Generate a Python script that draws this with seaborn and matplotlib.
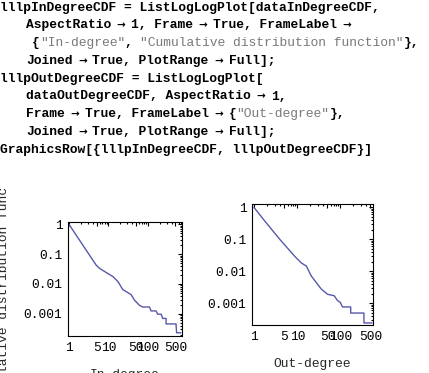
import numpy as np
import pandas as pd
import matplotlib
matplotlib.use('Agg')
import matplotlib.pyplot as plt
from matplotlib.ticker import FixedLocator, NullFormatter
from matplotlib.transforms import Bbox, TransformedBbox
import seaborn as sns

# values
in_degree = [1, 4.9, 6.0, 13.0, 17.4, 23.2, 37.7, 45.8, 61.3, 74.5, 110, 121,
             162, 178, 217, 239, 290, 290, 519, 537, 693]
in_cdf = [1, 0.0428, 0.0332, 0.0177, 0.0121, 0.00645, 0.00442, 0.00288, 0.00192,
          0.00169, 0.00169, 0.00125, 0.00125, 0.00097, 0.00097, 0.0007, 0.0007,
          0.000457, 0.000457, 0.000231, 0.000231]
out_degree = [0.97, 1.8, 4.0, 8.7, 12.4, 16.2, 21, 35.6, 50, 72, 86, 100, 112,
              174, 174, 354, 354, 548]
out_cdf = [1, 0.35, 0.095, 0.029, 0.018, 0.0144, 0.0071, 0.0028, 0.0019, 0.0017,
           0.0012, 0.00105, 0.00076, 0.00076, 0.00049, 0.00049, 0.00024, 0.00024]

x_ticks = [1, 5, 10, 50, 100, 500]
x_tick_labels = ['1', '5', '10', '50', '100', '500']
y_ticks = [1, 0.1, 0.01, 0.001]
y_tick_labels = ['1', '0.1', '0.01', '0.001']

# notebook input cell: runs of (text, kind)
code_lines = [
    (0, [('lllpInDegreeCDF = ListLogLogPlot[dataInDegreeCDF,', 'c')]),
    (26, [('AspectRatio', 'c'), ('', 'a'), ('1, Frame', 'c'), ('', 'a'),
          ('True, FrameLabel', 'c'), ('', 'a')]),
    (32, [('{', 'c'), ('"In-degree"', 's'), (', ', 'c'),
          ('"Cumulative distribution function"', 's'), ('},', 'c')]),
    (26, [('Joined', 'c'), ('', 'a'), ('True, PlotRange', 'c'), ('', 'a'), ('Full];', 'c')]),
    (0, [('lllpOutDegreeCDF = ListLogLogPlot[', 'c')]),
    (26, [('dataOutDegreeCDF, AspectRatio', 'c'), ('', 'a'), ('1,', 'c')]),
    (26, [('Frame', 'c'), ('', 'a'), ('True, FrameLabel', 'c'), ('', 'a'),
          ('{', 'c'), ('"Out-degree"', 's'), ('},', 'c')]),
    (26, [('Joined', 'c'), ('', 'a'), ('True, PlotRange', 'c'), ('', 'a'), ('Full];', 'c')]),
    (0, [('GraphicsRow[{lllpInDegreeCDF, lllpOutDegreeCDF}]', 'c')]),
]

sns.set_style('white')
mono = ['Liberation Mono', 'DejaVu Sans Mono']
plt.rcParams['font.family'] = mono

W, H = 429, 373
fs = 9.35
fig = plt.figure(figsize=(W / 100, H / 100), dpi=100)
fig.patch.set_facecolor('white')
renderer = fig.canvas.get_renderer()


def px(x, y):
    return x / W, 1 - y / H


# measure the real advance of one character at this size
probe = fig.text(0, 0, 'M' * 40, fontsize=fs, fontweight='bold')
cw = probe.get_window_extent(renderer).width / 40
probe.remove()

aw = 2.57 * cw    # " -> " slot width
for i, (indent, runs) in enumerate(code_lines):
    yc = 7.5 + 17.8 * i
    x = indent
    for text, kind in runs:
        if kind == 'a':
            fig.text(*px(x + aw / 2, yc), '\u2192', ha='center', va='center',
                     fontsize=7.5, fontweight='bold', color='black',
                     family=['DejaVu Sans'])
            x += aw
            continue
        fig.text(*px(x, yc), text, ha='left', va='center', fontsize=fs,
                 fontweight='bold' if kind == 'c' else 'normal',
                 color='black' if kind == 'c' else '#7a7a7a')
        x += cw * len(text)

line_color = '#5858aa'


def frame_plot(ax, xd, yd, xlim, ylim):
    df = pd.DataFrame({'x': xd, 'y': yd})
    sns.lineplot(data=df, x='x', y='y', ax=ax, sort=False, estimator=None,
                 color=line_color, lw=1.0)
    ax.set_xscale('log')
    ax.set_yscale('log')
    ax.set_xlim(*xlim)
    ax.set_ylim(*ylim)
    ax.set_xlabel('')
    ax.set_ylabel('')
    ax.xaxis.set_major_locator(FixedLocator(x_ticks))
    ax.set_xticklabels(x_tick_labels)
    ax.yaxis.set_major_locator(FixedLocator(y_ticks))
    ax.set_yticklabels(y_tick_labels)
    xminor = [m * 10 ** k for k in range(0, 3) for m in range(2, 10) if m != 5]
    yminor = [m * 10.0 ** k for k in range(-4, 0) for m in range(2, 10)]
    ax.xaxis.set_minor_locator(FixedLocator(xminor))
    ax.yaxis.set_minor_locator(FixedLocator(yminor))
    ax.xaxis.set_minor_formatter(NullFormatter())
    ax.yaxis.set_minor_formatter(NullFormatter())
    ax.tick_params(which='both', direction='in', top=True, right=True,
                   labelsize=9.3, pad=4, colors='black', width=0.8)
    ax.tick_params(which='major', length=3)
    ax.tick_params(which='minor', length=1.5)
    for s in ax.spines.values():
        s.set_color('black')
        s.set_linewidth(0.8)
        s.set_visible(True)
    ax.set_facecolor('white')


ax1 = fig.add_axes([68 / W, (H - 336) / H, 114 / W, 114 / H])
frame_plot(ax1, in_degree, in_cdf, (0.944, 736), (1.8e-4, 1.2))
ax2 = fig.add_axes([252 / W, (H - 325) / H, 121 / W, 121 / H])
frame_plot(ax2, out_degree, out_cdf, (0.88, 575), (2.07e-4, 1.26))

# frame labels
fig.text(*px(125, 369), 'In-degree', ha='center', va='top', fontsize=fs)
fig.text(*px(312, 364), 'Out-degree', ha='center', va='center', fontsize=fs)
yl = fig.text(*px(4, 280), 'Cumulative distribution function', rotation=90,
              ha='center', va='center', fontsize=fs)
yl.set_clip_box(TransformedBbox(Bbox([[0, 0], [1, (H - 186) / H]]), fig.transFigure))
yl.set_clip_on(True)

fig.savefig('out.png', dpi=100)
